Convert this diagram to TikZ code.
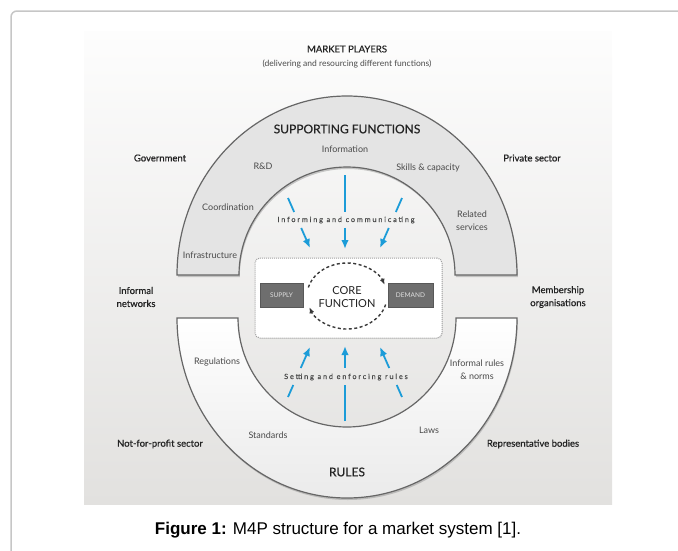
\documentclass[tikz,border=0pt]{standalone}
\usepackage{fontspec}
\setmainfont{Lato}
\newfontfamily\capfont{Liberation Sans}
\usetikzlibrary{shadows,arrows.meta,calc}

\definecolor{framegrey}{HTML}{C6C6C6}
\definecolor{paneltop}{HTML}{FDFDFD}
\definecolor{panelbottom}{HTML}{E2E1DF}
\definecolor{bandgrey}{HTML}{E4E4E4}
\definecolor{edgegrey}{HTML}{666666}
\definecolor{flowblue}{HTML}{1C9CD8}
\definecolor{labelgrey}{HTML}{4A4A4A}
\definecolor{darklabel}{HTML}{232323}
\definecolor{boxgrey}{HTML}{6E6E6E}
\definecolor{dotgrey}{HTML}{A0A0A0}

\tikzset{
  band/.style={draw=edgegrey, line width=1.2pt,
    drop shadow={shadow xshift=0.8pt, shadow yshift=-2pt, opacity=0.4}},
  inlabel/.style={text=labelgrey, font=\fontsize{9}{13}\selectfont, align=center, inner sep=0pt},
  outlabel/.style={text=darklabel, font=\fontsize{9.5}{13}\selectfont\addfontfeature{FakeBold=0.6},
    align=center, inner sep=0pt},
  bandtitle/.style={text=darklabel, font=\fontsize{12}{14}\selectfont\addfontfeature{FakeBold=0.5}, inner sep=0pt},
  tracked/.style={text=labelgrey, font=\fontsize{7.2}{8}\selectfont\addfontfeature{LetterSpace=26,FakeBold=0.4},
    inner sep=3pt},
  flow/.style={draw=flowblue, line width=1.8pt},
  flowtip/.style={flow, -{Latex[length=9pt,width=7.5pt]}},
  marketbox/.style={fill=boxgrey, draw=boxgrey!80!black, line width=0.4pt, text=white!88!black,
    font=\fontsize{6.5}{7}\selectfont, inner sep=0pt},
  loopline/.style={draw=darklabel!90, line width=1.4pt, dash pattern=on 3pt off 2.5pt,
    -{Latex[length=6pt,width=5pt]}},
}

\begin{document}
\begin{tikzpicture}[x=1pt, y=-1pt]
\useasboundingbox (0,0) rectangle (678,550);

% page frame
\draw[framegrey, line width=1.5pt, rounded corners=6pt] (11,560) -- (11,11) -- (690,11);

% figure panel
\shade[top color=paneltop, bottom color=panelbottom] (84,31) rectangle (612,504);

% supporting functions band
\path[band, fill=bandgrey]
  (177,275) arc[start angle=180, end angle=360, x radius=170, y radius=179]
  -- (455,275) arc[start angle=0, end angle=-180, radius=108] -- cycle;

% rules band
\path[band, top color=white, bottom color=white!92!black]
  (177,318) arc[start angle=180, end angle=0, x radius=170, y radius=180]
  -- (456,318) arc[start angle=0, end angle=180, radius=109] -- cycle;

% core function box
\node (core) [draw=dotgrey, densely dotted, line width=1pt, fill=white, rounded corners=5pt,
  minimum width=187pt, minimum height=80pt,
  drop shadow={shadow xshift=0.5pt, shadow yshift=-0.8pt, opacity=0.15}] at (348.5,298) {};
\node (supply) [marketbox, minimum width=43pt, minimum height=24pt] at (281.5,295) {SUPPLY};
\node (demand) [marketbox, minimum width=45pt, minimum height=24pt] at (410.5,295) {DEMAND};
\node (corefn) [text=darklabel, font=\fontsize{11}{12.5}\selectfont, align=center, inner sep=0pt]
  at (347,297) {CORE\\FUNCTION};
\coordinate (loopc) at (347,296);
\draw[loopline] ([shift={(195:40 and 33)}]loopc) arc[start angle=195, end angle=340, x radius=40, y radius=33];
\draw[loopline] ([shift={(15:40 and 33)}]loopc) arc[start angle=15, end angle=160, x radius=40, y radius=33];

% headings
\node (players) [text=darklabel, font=\fontsize{9.5}{11}\selectfont\addfontfeature{FakeBold=0.4}, inner sep=0pt]
  at (347,49) {MARKET PLAYERS};
\node (playerssub) [text=labelgrey, font=\fontsize{8.5}{10}\selectfont, inner sep=0pt] at (347,64)
  {(delivering and resourcing different functions)};
\node (supporting) [bandtitle] at (347,129) {SUPPORTING FUNCTIONS};
\node (rules) [bandtitle] at (347,472) {RULES};

% supporting functions
\node (information) [inlabel] at (345,149) {Information};
\node (rnd) [inlabel] at (263,166) {R\&D};
\node (skills) [inlabel] at (428,168) {Skills \& capacity};
\node (coordination) [inlabel] at (228,207) {Coordination};
\node (related) [inlabel] at (472,221) {Related\\services};
\node (infrastructure) [inlabel] at (210,255) {Infrastructure};

% rules
\node (regulations) [inlabel] at (217,362) {Regulations};
\node (informal) [inlabel] at (477,369.5) {Informal rules\\\& norms};
\node (standards) [inlabel] at (268,435) {Standards};
\node (laws) [inlabel] at (429,430) {Laws};

% market players around the system
\node (government) [outlabel] at (160,158) {Government};
\node (private) [outlabel] at (532,158) {Private sector};
\node (networks) [outlabel] at (136,297) {Informal\\networks};
\node (membership) [outlabel] at (558,297) {Membership\\organisations};
\node (nonprofit) [outlabel] at (160,444) {Not-for-profit sector};
\node (representative) [outlabel] at (533,444) {Representative bodies};

% flows into the core
\node (inform) [tracked] at (346,220) {Informing and communicating};
\node (setting) [tracked] at (346,377) {Setting and enforcing rules};

\coordinate (tl1) at (288,198); \coordinate (tl2) at (310,248);
\coordinate (tm1) at (345,175); \coordinate (tm2) at (345,249);
\coordinate (tr1) at (402,198); \coordinate (tr2) at (380,248);
\coordinate (bl1) at (288,397); \coordinate (bl2) at (310,347);
\coordinate (bm1) at (345,421); \coordinate (bm2) at (345,346);
\coordinate (br1) at (402,397); \coordinate (br2) at (380,347);

% each flow is broken where its caption crosses it
\foreach \s/\e/\ga/\gb in {tl1/tl2/0.28/0.6, tm1/tm2/0.5/0.716, tr1/tr2/0.28/0.6,
                           bl1/bl2/0.24/0.58, bm1/bm2/0.48/0.707, br1/br2/0.24/0.58} {
  \draw[flow] (\s) -- ($(\s)!\ga!(\e)$);
  \draw[flowtip] ($(\s)!\gb!(\e)$) -- (\e);
}

% caption
\node (caption) [inner sep=0pt] at (338,530)
  {\capfont\fontsize{17}{20}\selectfont\textbf{Figure 1:} M4P structure for a market system [1].};
\end{tikzpicture}
\end{document}
